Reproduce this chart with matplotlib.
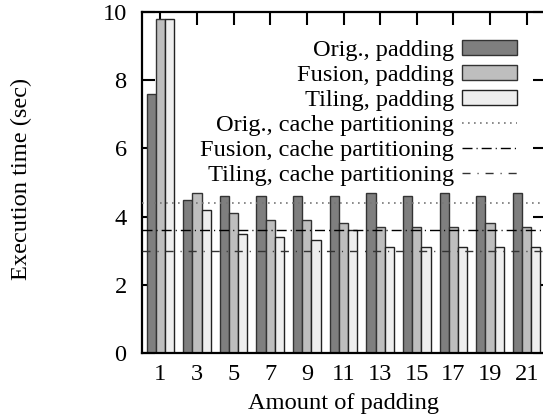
import numpy as np
import matplotlib
matplotlib.use("Agg")
import matplotlib.pyplot as plt

# padding amounts (groups) and execution times (sec)
padding = [1, 3, 5, 7, 9, 11, 13, 15, 17, 19, 21]
orig_pad = [7.6, 4.5, 4.6, 4.6, 4.6, 4.6, 4.7, 4.6, 4.7, 4.6, 4.7]
fusion_pad = [9.8, 4.7, 4.1, 3.9, 3.9, 3.8, 3.7, 3.7, 3.7, 3.8, 3.7]
tiling_pad = [9.8, 4.2, 3.5, 3.4, 3.3, 3.6, 3.1, 3.1, 3.1, 3.1, 3.1]

# cache partitioning results (horizontal lines)
orig_cp = 4.4
fusion_cp = 3.6
tiling_cp = 3.0

plt.rcParams['font.family'] = ['Liberation Serif', 'DejaVu Serif']
plt.rcParams['font.size'] = 17.6

fig = plt.figure(figsize=(5.43, 4.17), dpi=100)
ax = fig.add_axes([142/543, 64/417, 403/543, 341/417])

x = np.array(padding)
w = 0.5
b1 = ax.bar(x - w, orig_pad, w, color='#7f7f7f', edgecolor='#333333', linewidth=1.0,
            label='Orig., padding', zorder=2)
b2 = ax.bar(x, fusion_pad, w, color='#bebebe', edgecolor='#333333', linewidth=1.0,
            label='Fusion, padding', zorder=2)
b3 = ax.bar(x + w, tiling_pad, w, color='#eeeeee', edgecolor='#222222', linewidth=1.0,
            label='Tiling, padding', zorder=2)

l1 = ax.axhline(orig_cp, color='#777777', linewidth=1.2, dashes=(1.0, 2.6),
                label='Orig., cache partitioning', zorder=3)
l2 = ax.axhline(fusion_cp, color='black', linewidth=1.0, dashes=(7.2, 2.9, 0.8, 2.9),
                label='Fusion, cache partitioning', zorder=3)
l3 = ax.axhline(tiling_cp, color='#333333', linewidth=1.0, dashes=(5.8, 5.0, 0.8, 5.0),
                label='Tiling, cache partitioning', zorder=3)

ax.set_xlim(0, 22)
ax.set_ylim(0, 10)
ax.set_xticks(padding)
ax.set_yticks([0, 2, 4, 6, 8, 10])
ax.tick_params(axis='x', direction='in', bottom=False, top=True, labelbottom=True,
               length=9, width=1.5, pad=8)
ax.tick_params(axis='y', direction='in', left=True, right=True, length=9, width=1.5, pad=11)
for s in ax.spines.values():
    s.set_linewidth(1.6)

ax.set_xlabel('Amount of padding', labelpad=6)
ax.set_ylabel('Execution time (sec)')
ax.yaxis.set_label_coords(-0.273, 0.51)

ax.legend(handles=[b1, b2, b3, l1, l2, l3], loc='upper right',
          bbox_to_anchor=(0.9305, 0.917), frameon=False,
          markerfirst=False, handlelength=2.25, handleheight=0.57, handletextpad=0.33,
          labelspacing=0.15, borderpad=0, borderaxespad=0)

plt.savefig('out.png', dpi=100)
